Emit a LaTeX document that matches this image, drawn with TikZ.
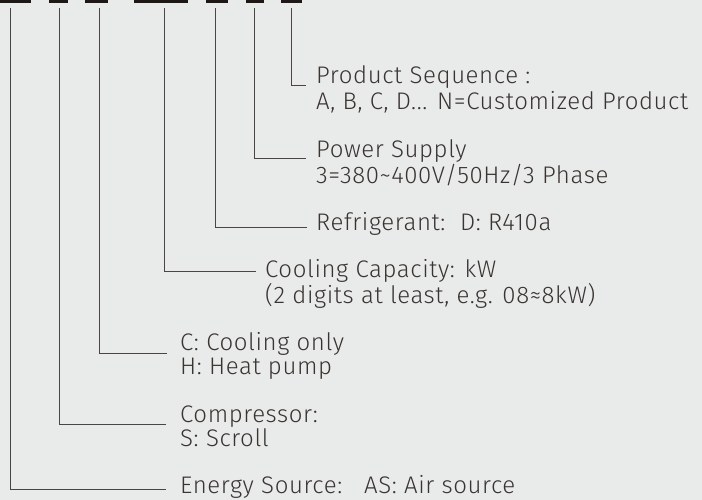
\documentclass[tikz,border=0pt]{standalone}
\usepackage{fontspec}
\setmainfont{Fira Sans}[UprightFont={* Light}, LetterSpace=2.5]
\newcommand{\twolines}[2]{\vtop{\hbox{#1}\hbox{#2}}}
\begin{document}
\begin{tikzpicture}[x=1pt,y=-1pt]
\definecolor{bg}{HTML}{E9EBEA}
\definecolor{ink}{HTML}{3A3431}
\definecolor{wire}{HTML}{4A4443}
\definecolor{barc}{HTML}{1E1716}
\tikzset{
  lbl/.style={anchor=base west, inner sep=0pt, text=ink,
    font=\fontsize{24}{24}\selectfont},
  lblw/.style={lbl, font=\fontsize{24}{26.5}\selectfont},
  barbox/.style={fill=barc, draw=none, inner sep=0pt, minimum height=3pt, anchor=north west},
  wirel/.style={draw=wire, line width=1pt}
}
\useasboundingbox (0,0) rectangle (702,500);
\fill[bg] (0,0) rectangle (702,500);
% bars
\node[barbox, minimum width=31pt] (b1) at (0,0) {};
\node[barbox, minimum width=19pt] (b2) at (49,0) {};
\node[barbox, minimum width=23pt] (b3) at (85,0) {};
\node[barbox, minimum width=54pt] (b4) at (134,0) {};
\node[barbox, minimum width=22pt] (b5) at (206,0) {};
\node[barbox, minimum width=18pt] (b6) at (246,0) {};
\node[barbox, minimum width=21pt] (b7) at (281,0) {};
% labels
\node[lblw] (l7) at (316,83.5) {\twolines{Product Sequence :}{A, B, C, D... N=Customized Product}};
\node[lbl] (l6) at (316,158) {\twolines{Power Supply}{3=380\textasciitilde400V/50Hz/3 Phase}};
\node[lbl] (l5) at (316,230) {Refrigerant:\ \ D: R410a};
\node[lblw] (l4) at (265,277) {\twolines{Cooling Capacity: kW}{(2 digits at least, e.g. 08≈8kW)}};
\node[lbl] (l3) at (180,350) {\twolines{C: Cooling only}{H: Heat pump}};
\node[lbl] (l2) at (180,422) {\twolines{Compressor:}{S: Scroll}};
\node[lbl] (l1) at (180,493) {Energy Source:\ \ \ AS: Air source};
% wire tops and ends
\coordinate (t1) at (10,8);   \coordinate (e1) at (166,489);
\coordinate (t2) at (59,8);   \coordinate (e2) at (166,424);
\coordinate (t3) at (99,8);   \coordinate (e3) at (167,353);
\coordinate (t4) at (164,8);  \coordinate (e4) at (256,271);
\coordinate (t5) at (215,8);  \coordinate (e5) at (307,227);
\coordinate (t6) at (254,8);  \coordinate (e6) at (306,159);
\coordinate (t7) at (291,8);  \coordinate (e7) at (306,86);
\foreach \i in {1,...,7} { \draw[wirel] (t\i) |- (e\i); }
\end{tikzpicture}
\end{document}
